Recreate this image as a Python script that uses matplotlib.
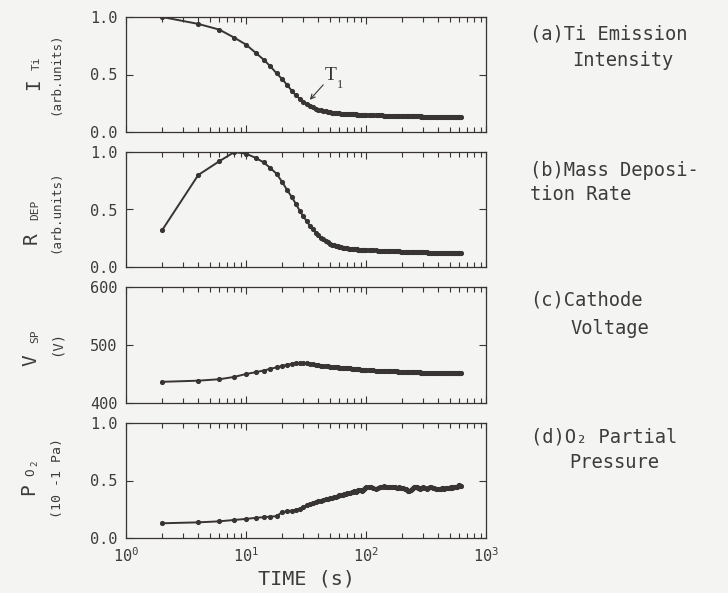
import numpy as np
import matplotlib
matplotlib.use("Agg")
import matplotlib.pyplot as plt
from matplotlib.ticker import LogLocator, FixedLocator, NullFormatter

plt.rcParams["font.family"] = ["DejaVu Sans Mono", "DejaVu Sans"]
plt.rcParams["mathtext.fontset"] = "custom"
plt.rcParams["mathtext.rm"] = "DejaVu Sans Mono"
plt.rcParams["mathtext.it"] = "DejaVu Sans Mono"

# ---- measured time series (sampling: every 2 s, then 5 s, then 10 s) ----
time_s = np.concatenate([np.arange(2, 101, 2), np.arange(105, 301, 5), np.arange(310, 621, 10)])

ti_emission = [
    1.000, 0.940, 0.890, 0.820, 0.760, 0.690, 0.630, 0.570, 0.510, 0.460,
    0.410, 0.360, 0.320, 0.290, 0.265, 0.245, 0.228, 0.214, 0.203, 0.195,
    0.189, 0.183, 0.179, 0.175, 0.172, 0.169, 0.167, 0.165, 0.163, 0.162,
    0.160, 0.159, 0.158, 0.157, 0.156, 0.156, 0.155, 0.154, 0.154, 0.153,
    0.153, 0.152, 0.152, 0.151, 0.151, 0.150, 0.150, 0.149, 0.149, 0.148,
    0.147, 0.146, 0.146, 0.145, 0.145, 0.144, 0.144, 0.143, 0.143, 0.142,
    0.142, 0.141, 0.141, 0.141, 0.140, 0.140, 0.140, 0.139, 0.139, 0.139,
    0.138, 0.138, 0.138, 0.138, 0.137, 0.137, 0.137, 0.137, 0.136, 0.136,
    0.136, 0.136, 0.135, 0.135, 0.135, 0.135, 0.135, 0.134, 0.134, 0.134,
    0.134, 0.133, 0.133, 0.133, 0.132, 0.132, 0.132, 0.132, 0.131, 0.131,
    0.131, 0.131, 0.130, 0.130, 0.130, 0.130, 0.130, 0.129, 0.129, 0.129,
    0.129, 0.129, 0.129, 0.128, 0.128, 0.128, 0.128, 0.128, 0.128, 0.128,
    0.128, 0.128,
]

deposition_rate = [
    0.320, 0.800, 0.920, 1.000, 0.985, 0.950, 0.910, 0.860, 0.810, 0.740,
    0.670, 0.610, 0.550, 0.490, 0.440, 0.400, 0.360, 0.330, 0.300, 0.275,
    0.256, 0.240, 0.227, 0.215, 0.204, 0.195, 0.189, 0.183, 0.179, 0.175,
    0.171, 0.168, 0.166, 0.163, 0.162, 0.160, 0.158, 0.157, 0.156, 0.155,
    0.154, 0.153, 0.152, 0.151, 0.151, 0.150, 0.149, 0.149, 0.148, 0.148,
    0.147, 0.146, 0.145, 0.144, 0.143, 0.142, 0.142, 0.141, 0.140, 0.139,
    0.139, 0.138, 0.137, 0.137, 0.136, 0.136, 0.135, 0.135, 0.134, 0.133,
    0.133, 0.133, 0.132, 0.132, 0.132, 0.131, 0.131, 0.131, 0.130, 0.130,
    0.130, 0.129, 0.129, 0.129, 0.129, 0.128, 0.128, 0.128, 0.128, 0.128,
    0.127, 0.127, 0.126, 0.126, 0.125, 0.125, 0.124, 0.124, 0.124, 0.123,
    0.123, 0.123, 0.122, 0.122, 0.122, 0.122, 0.121, 0.121, 0.121, 0.121,
    0.120, 0.120, 0.120, 0.120, 0.120, 0.119, 0.119, 0.119, 0.119, 0.119,
    0.119, 0.119,
]

cathode_voltage = [
    436.5, 438.5, 441.0, 445.0, 450.0, 453.0, 456.0, 459.0, 461.5, 464.0,
    466.0, 467.5, 468.5, 469.0, 469.0, 468.5, 467.5, 466.5, 465.5, 465.0,
    464.5, 464.0, 463.5, 463.0, 462.5, 462.0, 462.0, 461.5, 461.5, 461.0,
    461.0, 460.5, 460.5, 460.0, 460.0, 459.5, 459.5, 459.0, 459.0, 458.5,
    458.5, 458.0, 458.0, 458.0, 457.5, 457.5, 457.5, 457.5, 457.0, 457.0,
    457.0, 456.5, 456.5, 456.0, 456.0, 455.5, 455.5, 455.5, 455.0, 455.0,
    455.0, 455.0, 454.5, 454.5, 454.5, 454.5, 454.0, 454.0, 454.0, 454.0,
    454.0, 454.0, 453.5, 453.5, 453.5, 453.5, 453.5, 453.5, 453.0, 453.0,
    453.0, 453.0, 453.0, 453.0, 453.0, 453.0, 452.5, 452.5, 452.5, 452.5,
    452.5, 452.5, 452.5, 452.5, 452.0, 452.0, 452.0, 452.0, 452.0, 452.0,
    452.0, 451.5, 451.5, 451.5, 451.5, 451.5, 451.5, 451.5, 451.5, 451.5,
    451.5, 451.0, 451.0, 451.0, 451.0, 451.0, 451.0, 451.0, 451.0, 451.0,
    451.0, 451.0,
]

o2_pressure = [
    0.128, 0.136, 0.145, 0.157, 0.166, 0.175, 0.181, 0.186, 0.190, 0.225,
    0.232, 0.238, 0.245, 0.255, 0.270, 0.285, 0.300, 0.308, 0.315, 0.322,
    0.326, 0.330, 0.336, 0.342, 0.346, 0.350, 0.355, 0.360, 0.366, 0.370,
    0.372, 0.378, 0.381, 0.385, 0.388, 0.390, 0.394, 0.398, 0.402, 0.405,
    0.402, 0.410, 0.414, 0.418, 0.421, 0.412, 0.418, 0.425, 0.432, 0.440,
    0.444, 0.445, 0.432, 0.430, 0.436, 0.440, 0.444, 0.448, 0.447, 0.445,
    0.442, 0.440, 0.441, 0.442, 0.440, 0.438, 0.437, 0.440, 0.438, 0.436,
    0.433, 0.430, 0.422, 0.415, 0.410, 0.408, 0.415, 0.425, 0.433, 0.440,
    0.444, 0.445, 0.441, 0.438, 0.433, 0.430, 0.432, 0.435, 0.438, 0.440,
    0.432, 0.428, 0.436, 0.442, 0.445, 0.438, 0.432, 0.428, 0.425, 0.422,
    0.424, 0.430, 0.435, 0.432, 0.430, 0.434, 0.436, 0.435, 0.438, 0.437,
    0.440, 0.438, 0.440, 0.442, 0.440, 0.443, 0.445, 0.452, 0.458, 0.460,
    0.455, 0.450,
]

series = [ti_emission, deposition_rate, cathode_voltage, o2_pressure]
y_limits = [(0.0, 1.0), (0.0, 1.0), (400, 600), (0.0, 1.0)]
y_ticks = [[0.0, 0.5, 1.0], [0.0, 0.5, 1.0], [400, 500, 600], [0.0, 0.5, 1.0]]
y_ticklabels = [["0.0", "0.5", "1.0"], ["0.0", "0.5", "1.0"],
                ["400", "500", "600"], ["0.0", "0.5", "1.0"]]
x_ticklabels = [r"$10^{0}$", r"$10^{1}$", r"$10^{2}$", r"$10^{3}$"]

W, H = 728, 593
BG = "#f4f4f2"
INK = "#383434"
TXT = "#3c3c3c"

fig = plt.figure(figsize=(W / 100, H / 100), dpi=100, facecolor=BG)


def px_rect(left, top, right, bottom):
    return [left / W, 1 - bottom / H, (right - left) / W, (bottom - top) / H]


def ftext(x, y, s, **kw):
    kw.setdefault("color", TXT)
    fig.text(x / W, 1 - y / H, s, **kw)


panel_px = [(17, 132), (152, 267), (287, 403), (423, 538)]
axes = []
for i, (top, bottom) in enumerate(panel_px):
    ax = fig.add_axes(px_rect(126, top, 486, bottom))
    ax.set_facecolor(BG)
    ax.set_xscale("log")
    ax.set_xlim(1, 1000)
    ax.set_ylim(*y_limits[i])
    ax.plot(time_s, series[i], color=INK, lw=1.4, marker="o", ms=2.7,
            mec=INK, mfc=INK, solid_joinstyle="round")
    ax.xaxis.set_major_locator(LogLocator(base=10, numticks=10))
    ax.xaxis.set_minor_locator(LogLocator(base=10, subs=np.arange(2, 10), numticks=10))
    ax.xaxis.set_minor_formatter(NullFormatter())
    ax.yaxis.set_major_locator(FixedLocator(y_ticks[i]))
    ax.set_yticklabels(y_ticklabels[i], fontsize=11, color=TXT)
    if i == 3:
        ax.set_xticks([1, 10, 100, 1000])
        ax.set_xticklabels(x_ticklabels, fontsize=11, color=TXT)
    else:
        ax.tick_params(axis="x", which="both", labelbottom=False)
    ax.tick_params(which="major", direction="in", length=5, width=0.8,
                   top=True, right=True, color=INK, pad=6)
    ax.tick_params(which="minor", direction="in", length=3.5, width=0.8,
                   top=True, right=True, color=INK)
    for sp in ax.spines.values():
        sp.set_color(INK)
        sp.set_linewidth(0.9)
    axes.append(ax)

# arrow and label marking T1 on the emission curve
ax_a = axes[0]
ax_a.annotate("", xy=(34, 0.28), xytext=(44, 0.41),
              arrowprops=dict(arrowstyle="->", lw=0.8, color=INK,
                              shrinkA=0, shrinkB=0, mutation_scale=8))
ax_a.text(51, 0.49, "T", family="Liberation Serif", fontsize=14,
          color=INK, ha="center", va="center")
ax_a.text(61, 0.41, "1", family="Liberation Serif", fontsize=9,
          color=INK, ha="center", va="center")

# y-axis labels (symbol + subscript, units underneath)
rot = dict(rotation=90, ha="center", va="center")
ftext(34, 84, "I", fontsize=14, **rot)
ftext(37, 63, "Ti", fontsize=8, **rot)
ftext(56, 74, "(arb.units)", fontsize=9, **rot)

ftext(31, 238, "R", fontsize=14, **rot)
ftext(35, 210, "DEP", fontsize=8, **rot)
ftext(56, 212, "(arb.units)", fontsize=9, **rot)

ftext(31, 360, "V", fontsize=14, **rot)
ftext(35, 336, "SP", fontsize=8, **rot)
ftext(57, 343, "(V)", fontsize=10, **rot)

ftext(29, 489, "P", fontsize=14, **rot)
ftext(31, 472, "O", fontsize=9, **rot)
ftext(35, 463, "2", fontsize=6.5, **rot)
ftext(57, 478, "(10 -1 Pa)", fontsize=9.5, **rot)

ftext(306, 579, "TIME (s)", fontsize=14.5, ha="center", va="center")

# panel descriptions on the right
desc = dict(fontsize=13.5, ha="left", va="center")
ftext(530, 34, "(a)Ti Emission", **desc)
ftext(572, 60, "Intensity", **desc)
ftext(530, 170, "(b)Mass Deposi-", **desc)
ftext(530, 194, "tion Rate", **desc)
ftext(530, 300, "(c)Cathode", **desc)
ftext(570, 328, "Voltage", **desc)
ftext(531, 437, "(d)O\u2082 Partial", **desc)
ftext(569, 463, "Pressure", **desc)

fig.savefig("out.png", dpi=100, facecolor=BG)
